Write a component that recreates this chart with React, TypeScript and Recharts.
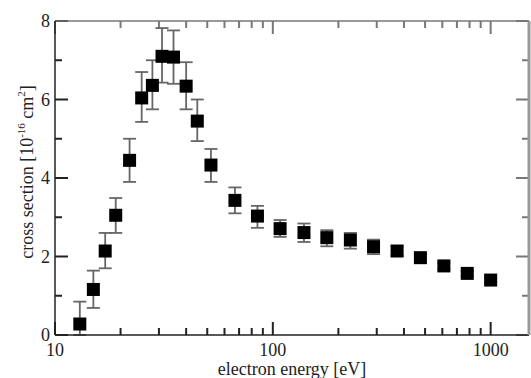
import React from 'react';
import { ScatterChart, Scatter, XAxis, YAxis, ErrorBar, ReferenceLine } from 'recharts';

const energies = [13, 15, 17, 19, 22, 25, 28, 31, 35, 40, 45, 52, 67, 85, 108, 139, 177, 227, 290, 372, 476, 610, 781, 1000];
const crossSections = [0.28, 1.16, 2.14, 3.05, 4.45, 6.04, 6.36, 7.1, 7.08, 6.34, 5.45, 4.33, 3.43, 3.03, 2.71, 2.61, 2.48, 2.42, 2.25, 2.14, 1.97, 1.76, 1.57, 1.4];
const errLow = [0.28, 0.47, 0.44, 0.45, 0.55, 0.61, 0.61, 0.67, 0.68, 0.59, 0.51, 0.43, 0.33, 0.3, 0.21, 0.24, 0.22, 0.22, 0.19, 0.12, 0.1, 0.08, 0.07, 0.06];
const errHigh = [0.57, 0.48, 0.46, 0.44, 0.55, 0.66, 0.64, 0.72, 0.68, 0.61, 0.55, 0.41, 0.33, 0.26, 0.22, 0.23, 0.19, 0.18, 0.18, 0.12, 0.1, 0.08, 0.07, 0.06];

const xMajorTicks = [10, 100, 1000];
const xMinorTicks = [20, 30, 40, 50, 60, 70, 80, 90, 200, 300, 400, 500, 600, 700, 800, 900];
const yMajorTicks = [0, 2, 4, 6, 8];
const yMinorTicks = [1, 3, 5, 7];
const X_DOMAIN = [10, 1500];
const Y_DOMAIN = [0, 8];

const data = energies.map((e, i) => ({ x: e, y: crossSections[i], err: [errLow[i], errHigh[i]] }));

const FONT = 'Liberation Serif';
const AXIS = '#222';
const FRAME = '#777';
const SW = 2;
const tickFont = { fontFamily: FONT, fontSize: 18, fill: '#222' };

function SquareShape(props: any) {
  const { cx, cy } = props;
  const s = 13;
  return <rect x={cx - s / 2} y={cy - s / 2} width={s} height={s} fill="#000" />;
}

function xTickPair(p: any, len: number) {
  const x = p.x1;
  const top = Math.min(p.y1, p.y2);
  const bot = Math.max(p.y1, p.y2);
  return (
    <g>
      <line x1={x} y1={bot} x2={x} y2={bot - len} stroke={AXIS} strokeWidth={SW} />
      <line x1={x} y1={top} x2={x} y2={top + len} stroke={FRAME} strokeWidth={SW} />
    </g>
  );
}

function yTickPair(p: any, len: number) {
  const y = p.y1;
  const left = Math.min(p.x1, p.x2);
  const right = Math.max(p.x1, p.x2);
  return (
    <g>
      <line x1={left} y1={y} x2={left + len} y2={y} stroke={AXIS} strokeWidth={SW} />
      <line x1={right} y1={y} x2={right - len} y2={y} stroke={FRAME} strokeWidth={SW} />
    </g>
  );
}

function XMajorTick(p: any) { return xTickPair(p, 13); }
function XMinorTick(p: any) { return xTickPair(p, 7); }
function YMajorTick(p: any) { return yTickPair(p, 13); }
function YMinorTick(p: any) { return yTickPair(p, 7); }

export default function App() {
  return (
    <div style={{ position: 'absolute', left: 0, top: 0, width: 531, height: 378, background: '#fff', fontFamily: FONT }}>
      <ScatterChart width={531} height={378} margin={{ top: 20, right: 1, bottom: 0, left: 0 }}>
        <XAxis xAxisId="b" dataKey="x" type="number" scale="log" domain={X_DOMAIN} ticks={xMajorTicks} interval={0}
          tick={tickFont} tickLine={false} tickSize={0} tickMargin={8}
          axisLine={{ stroke: AXIS, strokeWidth: 1.5 }} height={43} allowDataOverflow />
        <XAxis xAxisId="t" orientation="top" dataKey="x" type="number" scale="log" domain={X_DOMAIN} ticks={xMajorTicks}
          tick={false} tickLine={false} axisLine={{ stroke: FRAME, strokeWidth: 1.5 }} height={1} allowDataOverflow />
        <YAxis yAxisId="l" dataKey="y" type="number" domain={Y_DOMAIN} ticks={yMajorTicks} interval={0}
          tick={tickFont} tickLine={false} tickSize={0} tickMargin={5}
          axisLine={{ stroke: AXIS, strokeWidth: 1.5 }} width={55} allowDataOverflow />
        <YAxis yAxisId="r" orientation="right" dataKey="y" type="number" domain={Y_DOMAIN} ticks={yMajorTicks}
          tick={false} tickLine={false} axisLine={{ stroke: '#999', strokeWidth: 3 }} width={1} allowDataOverflow />
        {xMajorTicks.map((v) => (
          <ReferenceLine key={`xM${v}`} xAxisId="b" yAxisId="l" x={v} ifOverflow="visible" shape={XMajorTick} />
        ))}
        {xMinorTicks.map((v) => (
          <ReferenceLine key={`xm${v}`} xAxisId="b" yAxisId="l" x={v} ifOverflow="visible" shape={XMinorTick} />
        ))}
        {yMajorTicks.map((v) => (
          <ReferenceLine key={`yM${v}`} xAxisId="b" yAxisId="l" y={v} ifOverflow="visible" shape={YMajorTick} />
        ))}
        {yMinorTicks.map((v) => (
          <ReferenceLine key={`ym${v}`} xAxisId="b" yAxisId="l" y={v} ifOverflow="visible" shape={YMinorTick} />
        ))}
        <Scatter xAxisId="b" yAxisId="l" data={data} isAnimationActive={false} shape={SquareShape}>
          <ErrorBar dataKey="err" direction="y" width={6.5} stroke="#666" strokeWidth={1.8} isAnimationActive={false} />
        </Scatter>
      </ScatterChart>
      <svg width={531} height={378} style={{ position: 'absolute', left: 0, top: 0, pointerEvents: 'none' }}>
        <text x={292} y={375} textAnchor="middle" fontFamily={FONT} fontSize={18} fill="#222">electron energy [eV]</text>
        <text transform="translate(33,172) rotate(-90)" textAnchor="middle" fontFamily={FONT} fontSize={18} fill="#222">
          cross section [10<tspan dy={-8} fontSize={11}>-16</tspan><tspan dy={8}> cm</tspan><tspan dy={-8} fontSize={11}>2</tspan><tspan dy={8}>]</tspan>
        </text>
      </svg>
    </div>
  );
}
